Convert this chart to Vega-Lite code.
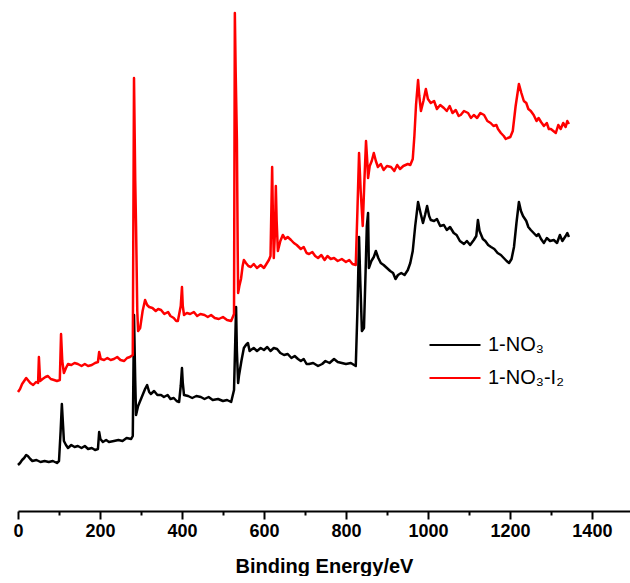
{
  "$schema": "https://vega.github.io/schema/vega-lite/v6.json",
  "width": 612,
  "height": 511,
  "padding": {"left": 12, "top": 0, "right": 1, "bottom": 0},
  "autosize": {"type": "pad"},
  "background": "white",
  "config": {"view": {"stroke": null}, "font": "Liberation Sans"},
  "datasets": {
    "xps": [
      {"energy":0,"intensity":46,"sample":"1-NO₃"},{"energy":5,"intensity":48,"sample":"1-NO₃"},{"energy":10,"intensity":51,"sample":"1-NO₃"},{"energy":15,"intensity":53,"sample":"1-NO₃"},{"energy":20,"intensity":56,"sample":"1-NO₃"},{"energy":24,"intensity":55,"sample":"1-NO₃"},{"energy":30,"intensity":52,"sample":"1-NO₃"},{"energy":35,"intensity":50,"sample":"1-NO₃"},{"energy":45,"intensity":51,"sample":"1-NO₃"},{"energy":55,"intensity":49,"sample":"1-NO₃"},{"energy":65,"intensity":50,"sample":"1-NO₃"},{"energy":75,"intensity":49,"sample":"1-NO₃"},{"energy":85,"intensity":50,"sample":"1-NO₃"},{"energy":95,"intensity":48,"sample":"1-NO₃"},{"energy":100,"intensity":50,"sample":"1-NO₃"},{"energy":104,"intensity":80,"sample":"1-NO₃"},{"energy":107,"intensity":107,"sample":"1-NO₃"},{"energy":110,"intensity":85,"sample":"1-NO₃"},{"energy":112,"intensity":70,"sample":"1-NO₃"},{"energy":117,"intensity":66,"sample":"1-NO₃"},{"energy":122,"intensity":63,"sample":"1-NO₃"},{"energy":130,"intensity":66,"sample":"1-NO₃"},{"energy":138,"intensity":64,"sample":"1-NO₃"},{"energy":146,"intensity":65,"sample":"1-NO₃"},{"energy":155,"intensity":63,"sample":"1-NO₃"},{"energy":163,"intensity":65,"sample":"1-NO₃"},{"energy":171,"intensity":62,"sample":"1-NO₃"},{"energy":180,"intensity":63,"sample":"1-NO₃"},{"energy":188,"intensity":61,"sample":"1-NO₃"},{"energy":195,"intensity":62,"sample":"1-NO₃"},{"energy":198,"intensity":79,"sample":"1-NO₃"},{"energy":201,"intensity":72,"sample":"1-NO₃"},{"energy":207,"intensity":69,"sample":"1-NO₃"},{"energy":215,"intensity":71,"sample":"1-NO₃"},{"energy":222,"intensity":69,"sample":"1-NO₃"},{"energy":234,"intensity":70,"sample":"1-NO₃"},{"energy":245,"intensity":71,"sample":"1-NO₃"},{"energy":255,"intensity":70,"sample":"1-NO₃"},{"energy":265,"intensity":73,"sample":"1-NO₃"},{"energy":276,"intensity":72,"sample":"1-NO₃"},{"energy":280,"intensity":75,"sample":"1-NO₃"},{"energy":283,"intensity":196,"sample":"1-NO₃"},{"energy":286,"intensity":130,"sample":"1-NO₃"},{"energy":288,"intensity":96,"sample":"1-NO₃"},{"energy":293,"intensity":105,"sample":"1-NO₃"},{"energy":300,"intensity":112,"sample":"1-NO₃"},{"energy":305,"intensity":117,"sample":"1-NO₃"},{"energy":310,"intensity":122,"sample":"1-NO₃"},{"energy":315,"intensity":126,"sample":"1-NO₃"},{"energy":320,"intensity":119,"sample":"1-NO₃"},{"energy":324,"intensity":117,"sample":"1-NO₃"},{"energy":332,"intensity":120,"sample":"1-NO₃"},{"energy":340,"intensity":116,"sample":"1-NO₃"},{"energy":349,"intensity":116,"sample":"1-NO₃"},{"energy":356,"intensity":114,"sample":"1-NO₃"},{"energy":365,"intensity":116,"sample":"1-NO₃"},{"energy":372,"intensity":112,"sample":"1-NO₃"},{"energy":380,"intensity":113,"sample":"1-NO₃"},{"energy":387,"intensity":110,"sample":"1-NO₃"},{"energy":393,"intensity":109,"sample":"1-NO₃"},{"energy":397,"intensity":125,"sample":"1-NO₃"},{"energy":400,"intensity":143,"sample":"1-NO₃"},{"energy":402,"intensity":128,"sample":"1-NO₃"},{"energy":405,"intensity":116,"sample":"1-NO₃"},{"energy":415,"intensity":115,"sample":"1-NO₃"},{"energy":425,"intensity":113,"sample":"1-NO₃"},{"energy":435,"intensity":115,"sample":"1-NO₃"},{"energy":446,"intensity":114,"sample":"1-NO₃"},{"energy":455,"intensity":112,"sample":"1-NO₃"},{"energy":465,"intensity":114,"sample":"1-NO₃"},{"energy":475,"intensity":111,"sample":"1-NO₃"},{"energy":488,"intensity":112,"sample":"1-NO₃"},{"energy":500,"intensity":110,"sample":"1-NO₃"},{"energy":510,"intensity":111,"sample":"1-NO₃"},{"energy":520,"intensity":109,"sample":"1-NO₃"},{"energy":527,"intensity":121,"sample":"1-NO₃"},{"energy":530,"intensity":170,"sample":"1-NO₃"},{"energy":532,"intensity":204,"sample":"1-NO₃"},{"energy":534,"intensity":160,"sample":"1-NO₃"},{"energy":537,"intensity":128,"sample":"1-NO₃"},{"energy":539,"intensity":135,"sample":"1-NO₃"},{"energy":545,"intensity":150,"sample":"1-NO₃"},{"energy":551,"intensity":163,"sample":"1-NO₃"},{"energy":556,"intensity":166,"sample":"1-NO₃"},{"energy":561,"intensity":168,"sample":"1-NO₃"},{"energy":565,"intensity":160,"sample":"1-NO₃"},{"energy":568,"intensity":161,"sample":"1-NO₃"},{"energy":575,"intensity":163,"sample":"1-NO₃"},{"energy":583,"intensity":160,"sample":"1-NO₃"},{"energy":592,"intensity":163,"sample":"1-NO₃"},{"energy":600,"intensity":161,"sample":"1-NO₃"},{"energy":608,"intensity":164,"sample":"1-NO₃"},{"energy":616,"intensity":160,"sample":"1-NO₃"},{"energy":624,"intensity":163,"sample":"1-NO₃"},{"energy":632,"intensity":162,"sample":"1-NO₃"},{"energy":640,"intensity":158,"sample":"1-NO₃"},{"energy":649,"intensity":156,"sample":"1-NO₃"},{"energy":658,"intensity":157,"sample":"1-NO₃"},{"energy":667,"intensity":153,"sample":"1-NO₃"},{"energy":675,"intensity":155,"sample":"1-NO₃"},{"energy":683,"intensity":152,"sample":"1-NO₃"},{"energy":690,"intensity":150,"sample":"1-NO₃"},{"energy":697,"intensity":152,"sample":"1-NO₃"},{"energy":704,"intensity":147,"sample":"1-NO₃"},{"energy":710,"intensity":147,"sample":"1-NO₃"},{"energy":720,"intensity":148,"sample":"1-NO₃"},{"energy":732,"intensity":145,"sample":"1-NO₃"},{"energy":742,"intensity":147,"sample":"1-NO₃"},{"energy":750,"intensity":150,"sample":"1-NO₃"},{"energy":760,"intensity":148,"sample":"1-NO₃"},{"energy":771,"intensity":152,"sample":"1-NO₃"},{"energy":780,"intensity":149,"sample":"1-NO₃"},{"energy":790,"intensity":148,"sample":"1-NO₃"},{"energy":800,"intensity":147,"sample":"1-NO₃"},{"energy":812,"intensity":148,"sample":"1-NO₃"},{"energy":824,"intensity":145,"sample":"1-NO₃"},{"energy":828,"intensity":200,"sample":"1-NO₃"},{"energy":832,"intensity":274,"sample":"1-NO₃"},{"energy":835,"intensity":230,"sample":"1-NO₃"},{"energy":839,"intensity":180,"sample":"1-NO₃"},{"energy":844,"intensity":183,"sample":"1-NO₃"},{"energy":848,"intensity":240,"sample":"1-NO₃"},{"energy":851,"intensity":285,"sample":"1-NO₃"},{"energy":854,"intensity":298,"sample":"1-NO₃"},{"energy":856,"intensity":243,"sample":"1-NO₃"},{"energy":862,"intensity":250,"sample":"1-NO₃"},{"energy":868,"intensity":254,"sample":"1-NO₃"},{"energy":873,"intensity":260,"sample":"1-NO₃"},{"energy":879,"intensity":253,"sample":"1-NO₃"},{"energy":885,"intensity":248,"sample":"1-NO₃"},{"energy":892,"intensity":246,"sample":"1-NO₃"},{"energy":900,"intensity":243,"sample":"1-NO₃"},{"energy":908,"intensity":240,"sample":"1-NO₃"},{"energy":915,"intensity":238,"sample":"1-NO₃"},{"energy":921,"intensity":232,"sample":"1-NO₃"},{"energy":927,"intensity":236,"sample":"1-NO₃"},{"energy":935,"intensity":238,"sample":"1-NO₃"},{"energy":943,"intensity":236,"sample":"1-NO₃"},{"energy":951,"intensity":241,"sample":"1-NO₃"},{"energy":957,"intensity":248,"sample":"1-NO₃"},{"energy":963,"intensity":260,"sample":"1-NO₃"},{"energy":969,"intensity":285,"sample":"1-NO₃"},{"energy":976,"intensity":309,"sample":"1-NO₃"},{"energy":982,"intensity":298,"sample":"1-NO₃"},{"energy":988,"intensity":288,"sample":"1-NO₃"},{"energy":993,"intensity":296,"sample":"1-NO₃"},{"energy":998,"intensity":305,"sample":"1-NO₃"},{"energy":1003,"intensity":295,"sample":"1-NO₃"},{"energy":1007,"intensity":291,"sample":"1-NO₃"},{"energy":1015,"intensity":290,"sample":"1-NO₃"},{"energy":1022,"intensity":292,"sample":"1-NO₃"},{"energy":1030,"intensity":285,"sample":"1-NO₃"},{"energy":1039,"intensity":286,"sample":"1-NO₃"},{"energy":1046,"intensity":281,"sample":"1-NO₃"},{"energy":1054,"intensity":284,"sample":"1-NO₃"},{"energy":1063,"intensity":278,"sample":"1-NO₃"},{"energy":1070,"intensity":276,"sample":"1-NO₃"},{"energy":1078,"intensity":270,"sample":"1-NO₃"},{"energy":1088,"intensity":267,"sample":"1-NO₃"},{"energy":1095,"intensity":270,"sample":"1-NO₃"},{"energy":1103,"intensity":266,"sample":"1-NO₃"},{"energy":1112,"intensity":271,"sample":"1-NO₃"},{"energy":1118,"intensity":275,"sample":"1-NO₃"},{"energy":1122,"intensity":291,"sample":"1-NO₃"},{"energy":1126,"intensity":280,"sample":"1-NO₃"},{"energy":1134,"intensity":272,"sample":"1-NO₃"},{"energy":1140,"intensity":270,"sample":"1-NO₃"},{"energy":1147,"intensity":266,"sample":"1-NO₃"},{"energy":1154,"intensity":264,"sample":"1-NO₃"},{"energy":1162,"intensity":262,"sample":"1-NO₃"},{"energy":1170,"intensity":258,"sample":"1-NO₃"},{"energy":1178,"intensity":256,"sample":"1-NO₃"},{"energy":1185,"intensity":253,"sample":"1-NO₃"},{"energy":1192,"intensity":250,"sample":"1-NO₃"},{"energy":1198,"intensity":248,"sample":"1-NO₃"},{"energy":1204,"intensity":252,"sample":"1-NO₃"},{"energy":1210,"intensity":264,"sample":"1-NO₃"},{"energy":1216,"intensity":288,"sample":"1-NO₃"},{"energy":1222,"intensity":309,"sample":"1-NO₃"},{"energy":1227,"intensity":300,"sample":"1-NO₃"},{"energy":1232,"intensity":295,"sample":"1-NO₃"},{"energy":1240,"intensity":290,"sample":"1-NO₃"},{"energy":1245,"intensity":284,"sample":"1-NO₃"},{"energy":1251,"intensity":281,"sample":"1-NO₃"},{"energy":1258,"intensity":278,"sample":"1-NO₃"},{"energy":1265,"intensity":275,"sample":"1-NO₃"},{"energy":1270,"intensity":277,"sample":"1-NO₃"},{"energy":1276,"intensity":272,"sample":"1-NO₃"},{"energy":1283,"intensity":268,"sample":"1-NO₃"},{"energy":1290,"intensity":273,"sample":"1-NO₃"},{"energy":1298,"intensity":270,"sample":"1-NO₃"},{"energy":1307,"intensity":271,"sample":"1-NO₃"},{"energy":1315,"intensity":268,"sample":"1-NO₃"},{"energy":1322,"intensity":276,"sample":"1-NO₃"},{"energy":1328,"intensity":270,"sample":"1-NO₃"},{"energy":1336,"intensity":275,"sample":"1-NO₃"},{"energy":1340,"intensity":278,"sample":"1-NO₃"},{"energy":1344,"intensity":274,"sample":"1-NO₃"},
      {"energy":0,"intensity":119,"sample":"1-NO₃-I₂"},{"energy":5,"intensity":122,"sample":"1-NO₃-I₂"},{"energy":10,"intensity":127,"sample":"1-NO₃-I₂"},{"energy":15,"intensity":130,"sample":"1-NO₃-I₂"},{"energy":20,"intensity":133,"sample":"1-NO₃-I₂"},{"energy":24,"intensity":131,"sample":"1-NO₃-I₂"},{"energy":30,"intensity":128,"sample":"1-NO₃-I₂"},{"energy":37,"intensity":126,"sample":"1-NO₃-I₂"},{"energy":44,"intensity":129,"sample":"1-NO₃-I₂"},{"energy":49,"intensity":128,"sample":"1-NO₃-I₂"},{"energy":51,"intensity":154,"sample":"1-NO₃-I₂"},{"energy":54,"intensity":130,"sample":"1-NO₃-I₂"},{"energy":60,"intensity":132,"sample":"1-NO₃-I₂"},{"energy":67,"intensity":134,"sample":"1-NO₃-I₂"},{"energy":73,"intensity":135,"sample":"1-NO₃-I₂"},{"energy":80,"intensity":132,"sample":"1-NO₃-I₂"},{"energy":88,"intensity":131,"sample":"1-NO₃-I₂"},{"energy":95,"intensity":130,"sample":"1-NO₃-I₂"},{"energy":102,"intensity":131,"sample":"1-NO₃-I₂"},{"energy":105,"intensity":177,"sample":"1-NO₃-I₂"},{"energy":108,"intensity":150,"sample":"1-NO₃-I₂"},{"energy":112,"intensity":138,"sample":"1-NO₃-I₂"},{"energy":117,"intensity":143,"sample":"1-NO₃-I₂"},{"energy":122,"intensity":147,"sample":"1-NO₃-I₂"},{"energy":130,"intensity":146,"sample":"1-NO₃-I₂"},{"energy":138,"intensity":148,"sample":"1-NO₃-I₂"},{"energy":146,"intensity":147,"sample":"1-NO₃-I₂"},{"energy":155,"intensity":145,"sample":"1-NO₃-I₂"},{"energy":163,"intensity":147,"sample":"1-NO₃-I₂"},{"energy":171,"intensity":145,"sample":"1-NO₃-I₂"},{"energy":180,"intensity":146,"sample":"1-NO₃-I₂"},{"energy":188,"intensity":148,"sample":"1-NO₃-I₂"},{"energy":195,"intensity":149,"sample":"1-NO₃-I₂"},{"energy":198,"intensity":159,"sample":"1-NO₃-I₂"},{"energy":202,"intensity":152,"sample":"1-NO₃-I₂"},{"energy":210,"intensity":151,"sample":"1-NO₃-I₂"},{"energy":218,"intensity":153,"sample":"1-NO₃-I₂"},{"energy":226,"intensity":151,"sample":"1-NO₃-I₂"},{"energy":234,"intensity":152,"sample":"1-NO₃-I₂"},{"energy":242,"intensity":154,"sample":"1-NO₃-I₂"},{"energy":250,"intensity":151,"sample":"1-NO₃-I₂"},{"energy":259,"intensity":150,"sample":"1-NO₃-I₂"},{"energy":266,"intensity":153,"sample":"1-NO₃-I₂"},{"energy":273,"intensity":154,"sample":"1-NO₃-I₂"},{"energy":280,"intensity":156,"sample":"1-NO₃-I₂"},{"energy":283,"intensity":433,"sample":"1-NO₃-I₂"},{"energy":286,"intensity":330,"sample":"1-NO₃-I₂"},{"energy":288,"intensity":285,"sample":"1-NO₃-I₂"},{"energy":291,"intensity":200,"sample":"1-NO₃-I₂"},{"energy":293,"intensity":180,"sample":"1-NO₃-I₂"},{"energy":298,"intensity":183,"sample":"1-NO₃-I₂"},{"energy":304,"intensity":200,"sample":"1-NO₃-I₂"},{"energy":310,"intensity":211,"sample":"1-NO₃-I₂"},{"energy":315,"intensity":206,"sample":"1-NO₃-I₂"},{"energy":320,"intensity":204,"sample":"1-NO₃-I₂"},{"energy":328,"intensity":203,"sample":"1-NO₃-I₂"},{"energy":336,"intensity":200,"sample":"1-NO₃-I₂"},{"energy":342,"intensity":202,"sample":"1-NO₃-I₂"},{"energy":349,"intensity":201,"sample":"1-NO₃-I₂"},{"energy":357,"intensity":197,"sample":"1-NO₃-I₂"},{"energy":366,"intensity":199,"sample":"1-NO₃-I₂"},{"energy":372,"intensity":195,"sample":"1-NO₃-I₂"},{"energy":380,"intensity":193,"sample":"1-NO₃-I₂"},{"energy":386,"intensity":190,"sample":"1-NO₃-I₂"},{"energy":390,"intensity":190,"sample":"1-NO₃-I₂"},{"energy":397,"intensity":205,"sample":"1-NO₃-I₂"},{"energy":400,"intensity":224,"sample":"1-NO₃-I₂"},{"energy":402,"intensity":205,"sample":"1-NO₃-I₂"},{"energy":405,"intensity":196,"sample":"1-NO₃-I₂"},{"energy":412,"intensity":198,"sample":"1-NO₃-I₂"},{"energy":420,"intensity":197,"sample":"1-NO₃-I₂"},{"energy":429,"intensity":199,"sample":"1-NO₃-I₂"},{"energy":437,"intensity":195,"sample":"1-NO₃-I₂"},{"energy":445,"intensity":197,"sample":"1-NO₃-I₂"},{"energy":455,"intensity":196,"sample":"1-NO₃-I₂"},{"energy":463,"intensity":194,"sample":"1-NO₃-I₂"},{"energy":471,"intensity":196,"sample":"1-NO₃-I₂"},{"energy":480,"intensity":193,"sample":"1-NO₃-I₂"},{"energy":490,"intensity":192,"sample":"1-NO₃-I₂"},{"energy":500,"intensity":194,"sample":"1-NO₃-I₂"},{"energy":510,"intensity":191,"sample":"1-NO₃-I₂"},{"energy":520,"intensity":190,"sample":"1-NO₃-I₂"},{"energy":527,"intensity":197,"sample":"1-NO₃-I₂"},{"energy":529,"intensity":498,"sample":"1-NO₃-I₂"},{"energy":531,"intensity":440,"sample":"1-NO₃-I₂"},{"energy":534,"intensity":372,"sample":"1-NO₃-I₂"},{"energy":536,"intensity":260,"sample":"1-NO₃-I₂"},{"energy":537,"intensity":218,"sample":"1-NO₃-I₂"},{"energy":540,"intensity":225,"sample":"1-NO₃-I₂"},{"energy":544,"intensity":232,"sample":"1-NO₃-I₂"},{"energy":548,"intensity":245,"sample":"1-NO₃-I₂"},{"energy":551,"intensity":251,"sample":"1-NO₃-I₂"},{"energy":556,"intensity":248,"sample":"1-NO₃-I₂"},{"energy":562,"intensity":245,"sample":"1-NO₃-I₂"},{"energy":568,"intensity":244,"sample":"1-NO₃-I₂"},{"energy":575,"intensity":247,"sample":"1-NO₃-I₂"},{"energy":583,"intensity":243,"sample":"1-NO₃-I₂"},{"energy":592,"intensity":246,"sample":"1-NO₃-I₂"},{"energy":600,"intensity":243,"sample":"1-NO₃-I₂"},{"energy":606,"intensity":247,"sample":"1-NO₃-I₂"},{"energy":612,"intensity":251,"sample":"1-NO₃-I₂"},{"energy":616,"intensity":255,"sample":"1-NO₃-I₂"},{"energy":620,"intensity":344,"sample":"1-NO₃-I₂"},{"energy":622,"intensity":290,"sample":"1-NO₃-I₂"},{"energy":624,"intensity":253,"sample":"1-NO₃-I₂"},{"energy":627,"intensity":280,"sample":"1-NO₃-I₂"},{"energy":629,"intensity":325,"sample":"1-NO₃-I₂"},{"energy":631,"intensity":290,"sample":"1-NO₃-I₂"},{"energy":634,"intensity":260,"sample":"1-NO₃-I₂"},{"energy":640,"intensity":270,"sample":"1-NO₃-I₂"},{"energy":646,"intensity":276,"sample":"1-NO₃-I₂"},{"energy":652,"intensity":272,"sample":"1-NO₃-I₂"},{"energy":658,"intensity":274,"sample":"1-NO₃-I₂"},{"energy":666,"intensity":271,"sample":"1-NO₃-I₂"},{"energy":673,"intensity":268,"sample":"1-NO₃-I₂"},{"energy":680,"intensity":266,"sample":"1-NO₃-I₂"},{"energy":690,"intensity":262,"sample":"1-NO₃-I₂"},{"energy":697,"intensity":264,"sample":"1-NO₃-I₂"},{"energy":704,"intensity":258,"sample":"1-NO₃-I₂"},{"energy":710,"intensity":257,"sample":"1-NO₃-I₂"},{"energy":718,"intensity":259,"sample":"1-NO₃-I₂"},{"energy":725,"intensity":255,"sample":"1-NO₃-I₂"},{"energy":732,"intensity":253,"sample":"1-NO₃-I₂"},{"energy":740,"intensity":256,"sample":"1-NO₃-I₂"},{"energy":748,"intensity":251,"sample":"1-NO₃-I₂"},{"energy":755,"intensity":255,"sample":"1-NO₃-I₂"},{"energy":763,"intensity":252,"sample":"1-NO₃-I₂"},{"energy":771,"intensity":253,"sample":"1-NO₃-I₂"},{"energy":780,"intensity":250,"sample":"1-NO₃-I₂"},{"energy":790,"intensity":252,"sample":"1-NO₃-I₂"},{"energy":800,"intensity":249,"sample":"1-NO₃-I₂"},{"energy":808,"intensity":251,"sample":"1-NO₃-I₂"},{"energy":816,"intensity":247,"sample":"1-NO₃-I₂"},{"energy":824,"intensity":246,"sample":"1-NO₃-I₂"},{"energy":828,"intensity":300,"sample":"1-NO₃-I₂"},{"energy":832,"intensity":358,"sample":"1-NO₃-I₂"},{"energy":836,"intensity":320,"sample":"1-NO₃-I₂"},{"energy":841,"intensity":285,"sample":"1-NO₃-I₂"},{"energy":845,"intensity":330,"sample":"1-NO₃-I₂"},{"energy":849,"intensity":370,"sample":"1-NO₃-I₂"},{"energy":852,"intensity":350,"sample":"1-NO₃-I₂"},{"energy":854,"intensity":333,"sample":"1-NO₃-I₂"},{"energy":858,"intensity":345,"sample":"1-NO₃-I₂"},{"energy":863,"intensity":350,"sample":"1-NO₃-I₂"},{"energy":868,"intensity":358,"sample":"1-NO₃-I₂"},{"energy":873,"intensity":350,"sample":"1-NO₃-I₂"},{"energy":878,"intensity":344,"sample":"1-NO₃-I₂"},{"energy":885,"intensity":347,"sample":"1-NO₃-I₂"},{"energy":892,"intensity":341,"sample":"1-NO₃-I₂"},{"energy":900,"intensity":345,"sample":"1-NO₃-I₂"},{"energy":910,"intensity":344,"sample":"1-NO₃-I₂"},{"energy":918,"intensity":340,"sample":"1-NO₃-I₂"},{"energy":925,"intensity":346,"sample":"1-NO₃-I₂"},{"energy":932,"intensity":342,"sample":"1-NO₃-I₂"},{"energy":940,"intensity":345,"sample":"1-NO₃-I₂"},{"energy":951,"intensity":347,"sample":"1-NO₃-I₂"},{"energy":957,"intensity":346,"sample":"1-NO₃-I₂"},{"energy":963,"intensity":352,"sample":"1-NO₃-I₂"},{"energy":967,"intensity":375,"sample":"1-NO₃-I₂"},{"energy":971,"intensity":406,"sample":"1-NO₃-I₂"},{"energy":976,"intensity":431,"sample":"1-NO₃-I₂"},{"energy":979,"intensity":415,"sample":"1-NO₃-I₂"},{"energy":983,"intensity":400,"sample":"1-NO₃-I₂"},{"energy":989,"intensity":410,"sample":"1-NO₃-I₂"},{"energy":995,"intensity":422,"sample":"1-NO₃-I₂"},{"energy":1000,"intensity":412,"sample":"1-NO₃-I₂"},{"energy":1007,"intensity":408,"sample":"1-NO₃-I₂"},{"energy":1015,"intensity":410,"sample":"1-NO₃-I₂"},{"energy":1022,"intensity":402,"sample":"1-NO₃-I₂"},{"energy":1030,"intensity":406,"sample":"1-NO₃-I₂"},{"energy":1039,"intensity":403,"sample":"1-NO₃-I₂"},{"energy":1046,"intensity":400,"sample":"1-NO₃-I₂"},{"energy":1053,"intensity":405,"sample":"1-NO₃-I₂"},{"energy":1060,"intensity":398,"sample":"1-NO₃-I₂"},{"energy":1068,"intensity":401,"sample":"1-NO₃-I₂"},{"energy":1075,"intensity":395,"sample":"1-NO₃-I₂"},{"energy":1080,"intensity":396,"sample":"1-NO₃-I₂"},{"energy":1088,"intensity":400,"sample":"1-NO₃-I₂"},{"energy":1098,"intensity":398,"sample":"1-NO₃-I₂"},{"energy":1105,"intensity":393,"sample":"1-NO₃-I₂"},{"energy":1112,"intensity":396,"sample":"1-NO₃-I₂"},{"energy":1120,"intensity":393,"sample":"1-NO₃-I₂"},{"energy":1128,"intensity":398,"sample":"1-NO₃-I₂"},{"energy":1137,"intensity":396,"sample":"1-NO₃-I₂"},{"energy":1145,"intensity":390,"sample":"1-NO₃-I₂"},{"energy":1153,"intensity":388,"sample":"1-NO₃-I₂"},{"energy":1160,"intensity":385,"sample":"1-NO₃-I₂"},{"energy":1167,"intensity":386,"sample":"1-NO₃-I₂"},{"energy":1171,"intensity":382,"sample":"1-NO₃-I₂"},{"energy":1178,"intensity":378,"sample":"1-NO₃-I₂"},{"energy":1185,"intensity":375,"sample":"1-NO₃-I₂"},{"energy":1190,"intensity":372,"sample":"1-NO₃-I₂"},{"energy":1195,"intensity":373,"sample":"1-NO₃-I₂"},{"energy":1201,"intensity":374,"sample":"1-NO₃-I₂"},{"energy":1207,"intensity":380,"sample":"1-NO₃-I₂"},{"energy":1214,"intensity":405,"sample":"1-NO₃-I₂"},{"energy":1222,"intensity":427,"sample":"1-NO₃-I₂"},{"energy":1228,"intensity":418,"sample":"1-NO₃-I₂"},{"energy":1234,"intensity":410,"sample":"1-NO₃-I₂"},{"energy":1240,"intensity":408,"sample":"1-NO₃-I₂"},{"energy":1245,"intensity":402,"sample":"1-NO₃-I₂"},{"energy":1251,"intensity":400,"sample":"1-NO₃-I₂"},{"energy":1258,"intensity":396,"sample":"1-NO₃-I₂"},{"energy":1265,"intensity":390,"sample":"1-NO₃-I₂"},{"energy":1270,"intensity":393,"sample":"1-NO₃-I₂"},{"energy":1276,"intensity":389,"sample":"1-NO₃-I₂"},{"energy":1283,"intensity":385,"sample":"1-NO₃-I₂"},{"energy":1290,"intensity":388,"sample":"1-NO₃-I₂"},{"energy":1295,"intensity":382,"sample":"1-NO₃-I₂"},{"energy":1300,"intensity":382,"sample":"1-NO₃-I₂"},{"energy":1306,"intensity":380,"sample":"1-NO₃-I₂"},{"energy":1312,"intensity":378,"sample":"1-NO₃-I₂"},{"energy":1318,"intensity":386,"sample":"1-NO₃-I₂"},{"energy":1324,"intensity":382,"sample":"1-NO₃-I₂"},{"energy":1330,"intensity":388,"sample":"1-NO₃-I₂"},{"energy":1336,"intensity":384,"sample":"1-NO₃-I₂"},{"energy":1340,"intensity":390,"sample":"1-NO₃-I₂"},{"energy":1344,"intensity":387,"sample":"1-NO₃-I₂"}
    ]
  },
  "data": {"name": "xps"},
  "mark": {"type": "line", "strokeWidth": 2.5, "strokeJoin": "round"},
  "encoding": {
    "x": {
      "field": "energy",
      "type": "quantitative",
      "scale": {"domain": [0, 1493], "nice": false, "zero": false},
      "axis": {
        "title": "Binding Energy/eV",
        "values": [0, 100, 200, 300, 400, 500, 600, 700, 800, 900, 1000, 1100, 1200, 1300, 1400],
        "labelExpr": "datum.value % 200 === 0 ? '' + datum.value : ''",
        "tickSize": {"condition": {"test": "datum.value % 200 === 0", "value": 8}, "value": 4},
        "tickColor": "#000000",
        "tickWidth": 2,
        "domainColor": "#000000",
        "domainWidth": 2,
        "grid": false,
        "labelFont": "Liberation Sans",
        "labelFontSize": 18,
        "labelFontWeight": "bold",
        "labelColor": "#000000",
        "labelPadding": 3,
        "labelFlush": false,
        "labelOverlap": false,
        "titleFont": "Liberation Sans",
        "titleFontSize": 20,
        "titleFontWeight": "bold",
        "titleColor": "#000000",
        "titlePadding": 16
      }
    },
    "y": {
      "field": "intensity",
      "type": "quantitative",
      "scale": {"domain": [0, 511], "nice": false, "zero": false},
      "axis": null
    },
    "color": {
      "field": "sample",
      "type": "nominal",
      "scale": {"domain": ["1-NO₃", "1-NO₃-I₂"], "range": ["#000000", "#ff0000"]},
      "legend": {
        "orient": "none",
        "legendX": 421,
        "legendY": 329,
        "title": null,
        "symbolType": "M-1.7,0H1.7",
        "symbolSize": 900,
        "symbolStrokeWidth": 2,
        "labelFont": "Liberation Sans",
        "labelFontSize": 20,
        "labelColor": "#000000",
        "labelOffset": 17,
        "rowPadding": 7
      }
    }
  }
}
